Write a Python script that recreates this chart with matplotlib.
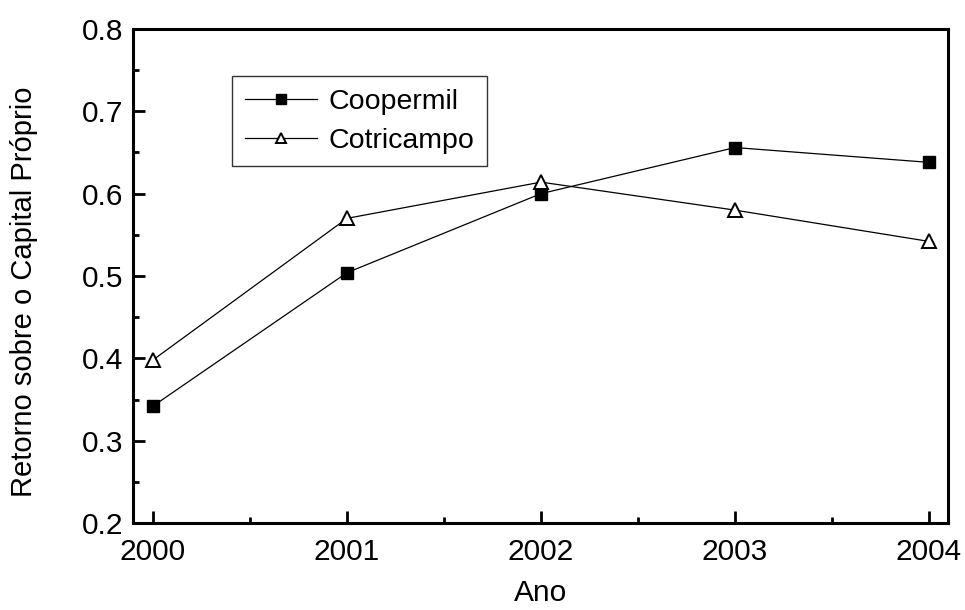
import matplotlib
matplotlib.use("Agg")
import matplotlib.pyplot as plt
from matplotlib.ticker import MultipleLocator

years = [2000, 2001, 2002, 2003, 2004]
coopermil = [0.342, 0.504, 0.600, 0.656, 0.638]
cotricampo = [0.398, 0.570, 0.614, 0.580, 0.542]
series_names = ["Coopermil", "Cotricampo"]
xlabel = "Ano"
ylabel = "Retorno sobre o Capital Próprio"

plt.rcParams['font.family'] = ['Liberation Sans', 'DejaVu Sans']

fig = plt.figure(figsize=(9.65, 6.10), dpi=100)
ax = fig.add_axes([0.1378, 0.1426, 0.9824 - 0.1378, 0.9525 - 0.1426])

ax.plot(years, coopermil, color='black', lw=0.9, marker='s', ms=9,
        mfc='black', mec='black', label=series_names[0])
ax.plot(years, cotricampo, color='black', lw=0.9, marker='^', ms=10,
        mfc='white', mec='black', mew=1.4, label=series_names[1])

ax.set_xlim(1999.897, 2004.098)
ax.set_ylim(0.2, 0.8)
ax.xaxis.set_minor_locator(MultipleLocator(0.5))
ax.yaxis.set_minor_locator(MultipleLocator(0.05))
ax.set_xticks(years)
ax.set_xticklabels([str(y) for y in years])
ax.set_yticks([0.2, 0.3, 0.4, 0.5, 0.6, 0.7, 0.8])
ax.set_yticklabels(["0.2", "0.3", "0.4", "0.5", "0.6", "0.7", "0.8"])

ax.tick_params(which='major', direction='in', length=8.5, width=2, labelsize=21.5,
               top=False, right=False)
ax.tick_params(axis='x', which='major', pad=10.5)
ax.tick_params(axis='y', which='major', pad=7)
ax.tick_params(which='minor', direction='in', length=4.5, width=2,
               top=False, right=False)
for s in ax.spines.values():
    s.set_linewidth(2.2)

ax.set_xlabel(xlabel, fontsize=21.5, labelpad=10)
ax.set_ylabel(ylabel, fontsize=21)
ax.yaxis.set_label_coords(-0.116, 0.468)

leg = ax.legend(loc='upper left', bbox_to_anchor=(0.1215, 0.905), borderaxespad=0,
                fontsize=20.5, frameon=True, fancybox=False, handlelength=2.55,
                handletextpad=0.4, borderpad=0.45, labelspacing=0.45)
leg.get_frame().set_edgecolor('black')
leg.get_frame().set_linewidth(1.0)
for h in leg.legend_handles:
    h.set_markersize(7)

fig.savefig("out.png", dpi=100)
